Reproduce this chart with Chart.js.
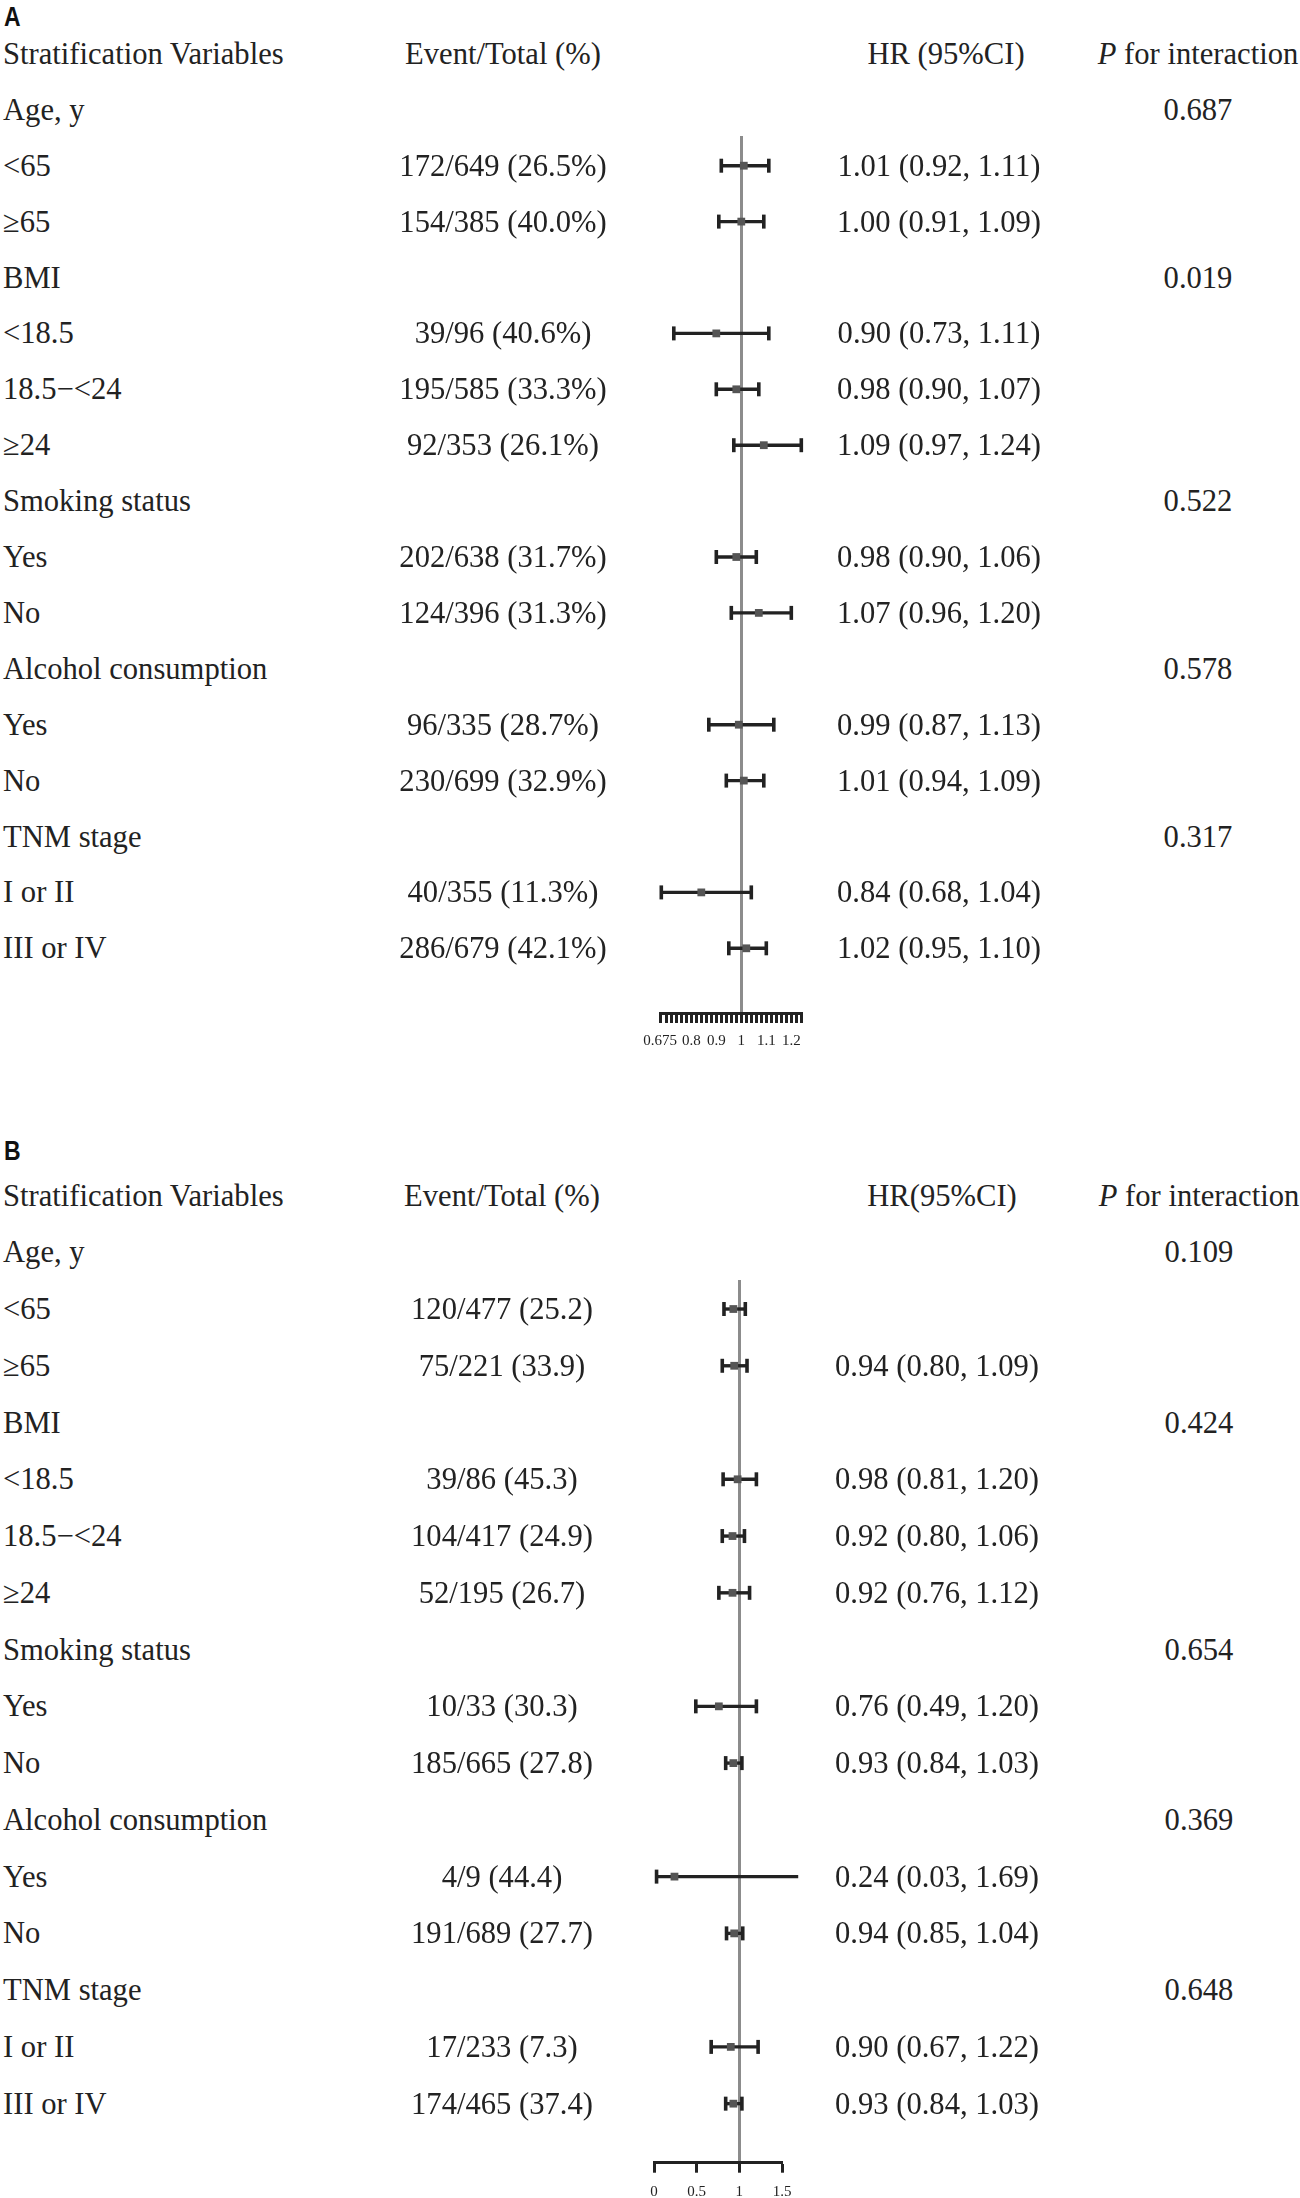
<!DOCTYPE html>
<html>
<head>
<meta charset="utf-8">
<script src="https://cdn.jsdelivr.net/npm/chart.js@4.4.1/dist/chart.umd.min.js"></script>
<style>
  html, body { margin: 0; padding: 0; background: #fff; overflow: hidden; }
  #page { position: relative; width: 1300px; height: 2198px; background: #fff; }
  .t { position: absolute; height: 40px; line-height: 40px; font-family: "Liberation Serif", "Times New Roman", serif; font-size: 30.6px; color: #222; white-space: nowrap; }
  .c { text-align: center; }
  .panel { position: absolute; font-family: "Liberation Sans", Arial, sans-serif; font-weight: bold; font-size: 28px; line-height: 28px; color: #111; transform: scaleX(0.82); transform-origin: left top; }
  canvas { position: absolute; }
</style>
</head>
<body>
<div id="page">
  <canvas id="chartA" width="260" height="960" style="left:600px; top:100px;"></canvas>
  <canvas id="chartB" width="260" height="958" style="left:600px; top:1240px;"></canvas>
</div>
<script>
// ---------- DATA ----------
const rowLabels = ["Age, y", "<65", "≥65", "BMI", "<18.5", "18.5−<24", "≥24", "Smoking status", "Yes", "No", "Alcohol consumption", "Yes", "No", "TNM stage", "I or II", "III or IV"];

const eventsA = ["", "172/649 (26.5%)", "154/385 (40.0%)", "", "39/96 (40.6%)", "195/585 (33.3%)", "92/353 (26.1%)", "", "202/638 (31.7%)", "124/396 (31.3%)", "", "96/335 (28.7%)", "230/699 (32.9%)", "", "40/355 (11.3%)", "286/679 (42.1%)"];
const hrA = [null, 1.01, 1.00, null, 0.90, 0.98, 1.09, null, 0.98, 1.07, null, 0.99, 1.01, null, 0.84, 1.02];
const loA = [null, 0.92, 0.91, null, 0.73, 0.90, 0.97, null, 0.90, 0.96, null, 0.87, 0.94, null, 0.68, 0.95];
const hiA = [null, 1.11, 1.09, null, 1.11, 1.07, 1.24, null, 1.06, 1.20, null, 1.13, 1.09, null, 1.04, 1.10];
const pA = ["0.687", "", "", "0.019", "", "", "", "0.522", "", "", "0.578", "", "", "0.317", "", ""];
const tickLabelsA = [0.675, 0.8, 0.9, 1, 1.1, 1.2];

const eventsB = ["", "120/477 (25.2)", "75/221 (33.9)", "", "39/86 (45.3)", "104/417 (24.9)", "52/195 (26.7)", "", "10/33 (30.3)", "185/665 (27.8)", "", "4/9 (44.4)", "191/689 (27.7)", "", "17/233 (7.3)", "174/465 (37.4)"];
const hrB = [null, 0.93, 0.94, null, 0.98, 0.92, 0.92, null, 0.76, 0.93, null, 0.24, 0.94, null, 0.90, 0.93];
const loB = [null, 0.82, 0.80, null, 0.81, 0.80, 0.76, null, 0.49, 0.84, null, 0.03, 0.85, null, 0.67, 0.84];
const hiB = [null, 1.07, 1.09, null, 1.20, 1.06, 1.12, null, 1.20, 1.03, null, 1.69, 1.04, null, 1.22, 1.03];
const hrTextHiddenB = [1];  // row whose HR text is not printed in the figure
const pB = ["0.109", "", "", "0.424", "", "", "", "0.654", "", "", "0.369", "", "", "0.648", "", ""];
const tickLabelsB = [0, 0.5, 1, 1.5];

// ---------- LAYOUT ----------
const page = document.getElementById('page');
function addText(txt, left, top, width, cls, html) {
  const d = document.createElement('div');
  d.className = 't' + (cls ? ' ' + cls : '');
  d.style.left = left + 'px';
  d.style.top = top + 'px';
  if (width) d.style.width = width + 'px';
  if (html) d.innerHTML = txt; else d.textContent = txt;
  page.appendChild(d);
}
function fmt(v) { return v.toFixed(2); }

function buildPanel(cfg) {
  const pl = document.createElement('div');
  pl.className = 'panel';
  pl.textContent = cfg.letter;
  pl.style.left = '4px';
  pl.style.top = cfg.letterTop + 'px';
  page.appendChild(pl);

  const rowY = i => cfg.row0 + cfg.rowH * i;   // i = 0 header, 1.. rows
  addText("Stratification Variables", 3, rowY(0) - 20);
  addText("Event/Total (%)", cfg.evC - 150, rowY(0) - 20, 300, 'c');
  addText(cfg.hrHead, cfg.hrHeadC - 150, rowY(0) - 20, 300, 'c');
  addText("<i>P</i> for interaction", cfg.pC - 110, rowY(0) - 20, 220, 'c', true);
  rowLabels.forEach((lab, k) => {
    const y = rowY(k + 1) - 20;
    addText(lab, 3, y);
    if (cfg.events[k]) addText(cfg.events[k], cfg.evC - 150, y, 300, 'c');
    if (cfg.hr[k] !== null && !(cfg.hidden || []).includes(k)) {
      addText(fmt(cfg.hr[k]) + " (" + fmt(cfg.lo[k]) + ", " + fmt(cfg.hi[k]) + ")", cfg.hrC - 150, y, 300, 'c');
    }
    if (cfg.p[k]) addText(cfg.p[k], cfg.pC - 100, y, 200, 'c');
  });

  const canvasLeft = cfg.canvasLeft, canvasTop = cfg.canvasTop;
  const areaTop = cfg.refTop, areaBottom = cfg.axisY;
  const yMin = (areaTop - cfg.row0) / cfg.rowH;
  const yMax = (areaBottom - cfg.row0) / cfg.rowH;
  const rows = [];
  cfg.hr.forEach((v, k) => { if (v !== null) rows.push(k); });

  const datasets = [];
  rows.forEach(k => {
    datasets.push({
      type: 'scatter', showLine: true, order: 3, clip: false,
      data: [{ x: cfg.lo[k], y: k + 1 }, { x: cfg.hi[k], y: k + 1 }],
      borderColor: '#222', borderWidth: 3.4, pointRadius: 0
    });
  });
  const caps = [];
  rows.forEach(k => { caps.push({ x: cfg.lo[k], y: k + 1 }); caps.push({ x: cfg.hi[k], y: k + 1 }); });
  datasets.push({
    type: 'scatter', order: 2, clip: false, data: caps,
    pointStyle: 'line', rotation: 90, pointRadius: 7, borderColor: '#222', borderWidth: 3.6
  });
  datasets.push({
    type: 'scatter', order: 1, clip: false,
    data: rows.map(k => ({ x: cfg.hr[k], y: k + 1 })),
    pointStyle: 'rect', pointRadius: 5.5, backgroundColor: '#555', borderColor: '#555', borderWidth: 0
  });

  const cv = document.getElementById(cfg.canvasId);
  const W = cv.width, H = cv.height;
  new Chart(cv, {
    type: 'scatter',
    data: { datasets },
    options: {
      responsive: false, animation: false, devicePixelRatio: 1,
      layout: { padding: { left: cfg.xLeft - canvasLeft, right: (canvasLeft + W) - cfg.xRight, top: areaTop - canvasTop, bottom: 0 } },
      plugins: { legend: { display: false }, tooltip: { enabled: false } },
      scales: {
        y: { type: 'linear', display: false, reverse: true, min: yMin, max: yMax },
        x: {
          type: 'linear', min: cfg.xMin, max: cfg.xMax,
          afterBuildTicks: s => { s.ticks = cfg.ticks.map(v => ({ value: v })); },
          afterFit: s => { s.height = (canvasTop + H) - areaBottom; },
          border: { display: true, color: '#222', width: 3 },
          grid: {
            drawOnChartArea: true, drawTicks: true, tickLength: 10,
            color: c => (c.tick && Math.abs(c.tick.value - 1) < 1e-9) ? '#8c8c8c' : 'rgba(0,0,0,0)',
            lineWidth: c => (c.tick && Math.abs(c.tick.value - 1) < 1e-9) ? 3 : 1,
            tickColor: '#222', tickWidth: 3
          },
          ticks: {
            autoSkip: false, maxRotation: 0, padding: cfg.labelPad, color: '#222',
            font: { family: "Liberation Serif", size: 15 },
            callback: v => {
              const m = cfg.tickLabels.find(t => Math.abs(t - v) < 1e-9);
              return m === undefined ? '' : String(m);
            }
          }
        }
      }
    }
  });
}

// minor ticks of panel A (comb of marks every 0.02 between the ends)
const ticksA = [0.675];
for (let k = 35; k <= 62; k++) ticksA.push(k / 50);

buildPanel({
  letter: 'A', letterTop: 3, canvasId: 'chartA', canvasLeft: 600, canvasTop: 100,
  row0: 53.9, rowH: 55.9, refTop: 136, axisY: 1013,
  xMin: 0.675, xMax: 1.245, xLeft: 660.05, xRight: 802.55,
  ticks: ticksA, tickLabels: tickLabelsA, labelPad: 9,
  events: eventsA, hr: hrA, lo: loA, hi: hiA, p: pA,
  evC: 503, hrC: 939, hrHeadC: 946, hrHead: "HR (95%CI)", pC: 1198
});
buildPanel({
  letter: 'B', letterTop: 1137, canvasId: 'chartB', canvasLeft: 600, canvasTop: 1240,
  row0: 1195.5, rowH: 56.76, refTop: 1280, axisY: 2162.7,
  xMin: 0, xMax: 1.5, xLeft: 654, xRight: 782,
  ticks: tickLabelsB, tickLabels: tickLabelsB, labelPad: 10,
  events: eventsB, hr: hrB, lo: loB, hi: hiB, p: pB, hidden: hrTextHiddenB,
  evC: 502, hrC: 937, hrHeadC: 942, hrHead: "HR(95%CI)", pC: 1199
});
</script>
</body>
</html>
